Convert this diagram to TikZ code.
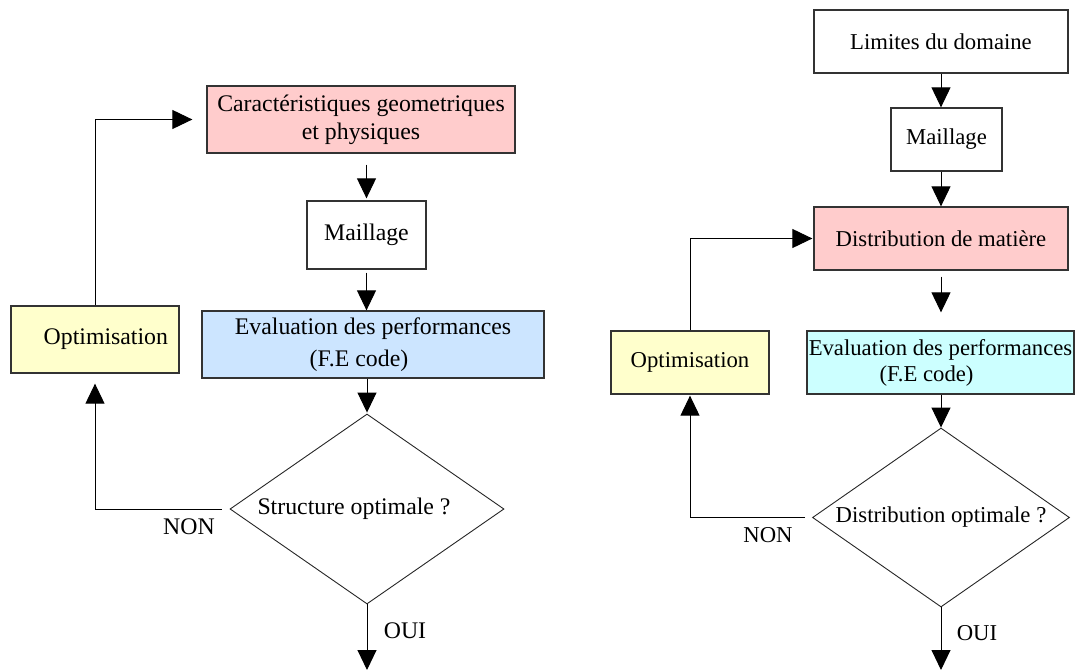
\documentclass[tikz,border=0pt]{standalone}
\usepackage{fontspec}
\setmainfont{Liberation Serif}
\usetikzlibrary{shapes.geometric,arrows.meta}

\definecolor{rose}{HTML}{FFCCCC}
\definecolor{bleu}{HTML}{CCE5FF}
\definecolor{turquoise}{HTML}{CCFFFF}
\definecolor{jaune}{HTML}{FFFFCC}

\begin{document}
\begin{tikzpicture}[x=1pt,y=1pt,
        bloc/.style={draw=black!80,line width=1.3pt,inner sep=0pt,align=center},
        losange/.style={diamond,aspect=1.44,draw=black!85,line width=0.9pt,inner sep=0pt},
        fleche/.style={line width=1pt,-{Triangle[length=20pt,width=19pt]}},
        gauche/.style={font=\fontsize{23.8}{28}\selectfont},
        droite/.style={font=\fontsize{22.7}{26}\selectfont}]

        \useasboundingbox (0,0) rectangle (1077,-671);

        % premier organigramme
        \node (carac) at (361,-119.5) [bloc,gauche,fill=rose,minimum width=308pt,minimum height=67pt] {Caractéristiques geometriques\\et physiques};
        \node (maill) at (366.5,-235) [bloc,gauche,minimum width=119pt,minimum height=68pt] {Maillage};
        \node (eval) at (373,-344.5) [bloc,gauche,fill=bleu,minimum width=342pt,minimum height=67pt] {Evaluation des performances\\[4pt](F.E code)\hspace*{28pt}};
        \node (optl) at (95,-339.5) [bloc,gauche,fill=jaune,minimum width=168pt,minimum height=67pt,text width=146pt,align=right] {Optimisation};
        \node (struct) at (367,-509) [losange,gauche,minimum width=274pt,minimum height=190pt] {Structure optimale ?\hspace*{26pt}};
        \coordinate (finl) at (367,-670);

        \draw[fleche,shorten <=11pt,shorten >=2pt] (carac.south -| maill.north) -- (maill.north);
        \draw[fleche,shorten <=3pt] (maill.south) -- (maill.south |- eval.north);
        \draw[fleche,shorten >=1pt] (eval.south -| struct.north) -- (struct.north);
        \draw[fleche,shorten <=8pt,shorten >=10pt] (struct.west) -| (optl.south);
        \draw[fleche,shorten >=14pt] (optl.north) |- (carac.west);
        \draw[fleche] (struct.south) -- (finl);

        \node (nonl) at (189,-527) [gauche] {NON};
        \node (ouil) at (405,-631) [gauche] {OUI};

        % second organigramme
        \node (lim) at (941,-41.5) [bloc,droite,minimum width=254pt,minimum height=63pt] {Limites du domaine};
        \node (mailr) at (946.5,-139.5) [bloc,droite,minimum width=111pt,minimum height=63pt] {Maillage};
        \node (distr) at (941,-238.5) [bloc,droite,fill=rose,minimum width=254pt,minimum height=63pt] {Distribution de matière};
        \node (evalr) at (940.5,-362.5) [bloc,droite,fill=turquoise,minimum width=267pt,minimum height=63pt] {Evaluation des performances\\(F.E code)\hspace*{28pt}};
        \node (optr) at (690,-362.5) [bloc,droite,fill=jaune,minimum width=158pt,minimum height=63pt] {Optimisation};
        \node (dopt) at (941,-517.5) [losange,droite,minimum width=257pt,minimum height=179pt] {Distribution optimale ?};
        \coordinate (finr) at (941,-670);

        \draw[fleche] (lim.south) -- (lim.south |- mailr.north);
        \draw[fleche] (mailr.south -| distr.north) -- (distr.north);
        \draw[fleche,shorten <=6pt,shorten >=18pt] (distr.south) -- (distr.south |- evalr.north);
        \draw[fleche] (evalr.south -| dopt.north) -- (dopt.north);
        \draw[fleche,shorten <=7pt,shorten >=1pt] (dopt.west) -| (optr.south);
        \draw[fleche,shorten >=1pt] (optr.north) |- (distr.west);
        \draw[fleche] (dopt.south) -- (finr);

        \node (nonr) at (768,-535) [droite] {NON};
        \node (ouir) at (977,-633) [droite] {OUI};

\end{tikzpicture}
\end{document}
